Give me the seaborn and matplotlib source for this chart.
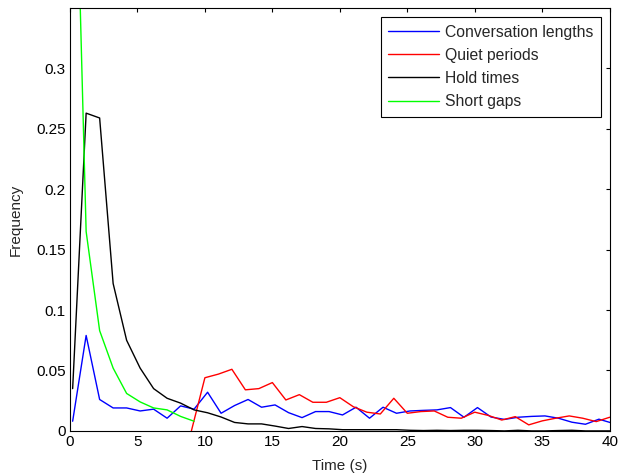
import numpy as np
import pandas as pd
import matplotlib
matplotlib.use("Agg")
import matplotlib.pyplot as plt
import seaborn as sns

# time bins (s) for conversation lengths, hold times and short gaps
t_main = [0.2, 1.2, 2.2, 3.2, 4.2, 5.2, 6.2, 7.2, 8.2, 9.2,
          10.2, 11.2, 12.2, 13.2, 14.2, 15.2, 16.2, 17.2, 18.2, 19.2,
          20.2, 21.2, 22.2, 23.2, 24.2, 25.2, 26.2, 27.2, 28.2, 29.2,
          30.2, 31.2, 32.2, 33.2, 34.2, 35.2, 36.2, 37.2, 38.2, 39.2, 40.2]
# time bins (s) for quiet periods
t_quiet = [9, 10, 11, 12, 13, 14, 15, 16, 17, 18, 19, 20, 21, 22, 23, 24,
           25, 26, 27, 28, 29, 30, 31, 32, 33, 34, 35, 36, 37, 38, 39, 40]

conversation = [0.008, 0.079, 0.026, 0.019, 0.019, 0.0165, 0.018, 0.0105, 0.0207, 0.018,
                0.032, 0.0146, 0.021, 0.026, 0.0196, 0.0215, 0.0151, 0.011, 0.016, 0.016,
                0.0132, 0.0196, 0.0105, 0.0196, 0.0146, 0.0165, 0.017, 0.0174, 0.0193, 0.0113,
                0.0193, 0.0115, 0.0095, 0.0113, 0.012, 0.0124, 0.0105, 0.0072, 0.0055, 0.0097,
                0.0064]
hold = [0.035, 0.263, 0.259, 0.122, 0.075, 0.052, 0.035, 0.027, 0.023, 0.0174,
        0.015, 0.0115, 0.007, 0.0058, 0.0058, 0.004, 0.002, 0.0036, 0.002, 0.0017,
        0.001, 0.001, 0.001, 0.001, 0.001, 0.0005, 0.0003, 0.0005, 0.0003, 0.0005,
        0.0005, 0.0003, 0.0, 0.0005, 0.0, 0.0, 0.0003, 0.0005, 0.0, 0.0, 0.0]
short_gaps = [0.59, 0.165, 0.083, 0.052, 0.031, 0.024, 0.019, 0.0174, 0.012, 0.008]
quiet = [0.0, 0.044, 0.047, 0.051, 0.034, 0.035, 0.040, 0.0256, 0.030, 0.0237,
         0.0237, 0.0275, 0.020, 0.0155, 0.014, 0.027, 0.0146, 0.016, 0.0165, 0.0113,
         0.0105, 0.0155, 0.0128, 0.009, 0.0118, 0.005, 0.0083, 0.0105, 0.0124, 0.0105,
         0.0077, 0.0113]

sns.set_theme(style="white")
plt.rcParams['font.family'] = ['Liberation Sans', 'DejaVu Sans']
plt.rcParams['font.size'] = 11

fig = plt.figure(figsize=(6.19, 4.73), dpi=100)
ax = fig.add_axes([0.113, 0.089, 0.872, 0.894])

sns.lineplot(x=t_main, y=conversation, color=(0, 0, 1), lw=1, label="Conversation lengths", ax=ax)
sns.lineplot(x=t_quiet, y=quiet, color=(1, 0, 0), lw=1, label="Quiet periods", ax=ax)
sns.lineplot(x=t_main, y=hold, color="black", lw=1, label="Hold times", ax=ax)
sns.lineplot(x=t_main[:len(short_gaps)], y=short_gaps, color=(0, 1, 0), lw=1, label="Short gaps", ax=ax)

ax.set_xlim(0, 40)
ax.set_ylim(0, 0.35)
ax.set_xticks([0, 5, 10, 15, 20, 25, 30, 35, 40])
ax.set_yticks([0, 0.05, 0.1, 0.15, 0.2, 0.25, 0.3])
ax.set_yticklabels(["0", "0.05", "0.1", "0.15", "0.2", "0.25", "0.3"])
ax.tick_params(direction="in", length=3, width=0.8, top=True, right=True,
               labelsize=11, colors="black", pad=3)
for s in ax.spines.values():
    s.set_color("black")
    s.set_linewidth(0.8)
ax.set_xlabel("Time (s)", fontsize=11, labelpad=7)
ax.set_ylabel("Frequency", fontsize=11, labelpad=10)

leg = ax.legend(loc="upper right", fontsize=11.3, frameon=True, fancybox=False,
                framealpha=1, edgecolor="black", handlelength=3.2,
                labelspacing=0.52, borderpad=0.5, borderaxespad=0.55, handletextpad=0.4)
leg.get_frame().set_linewidth(0.8)

plt.savefig("out.png", dpi=100)
